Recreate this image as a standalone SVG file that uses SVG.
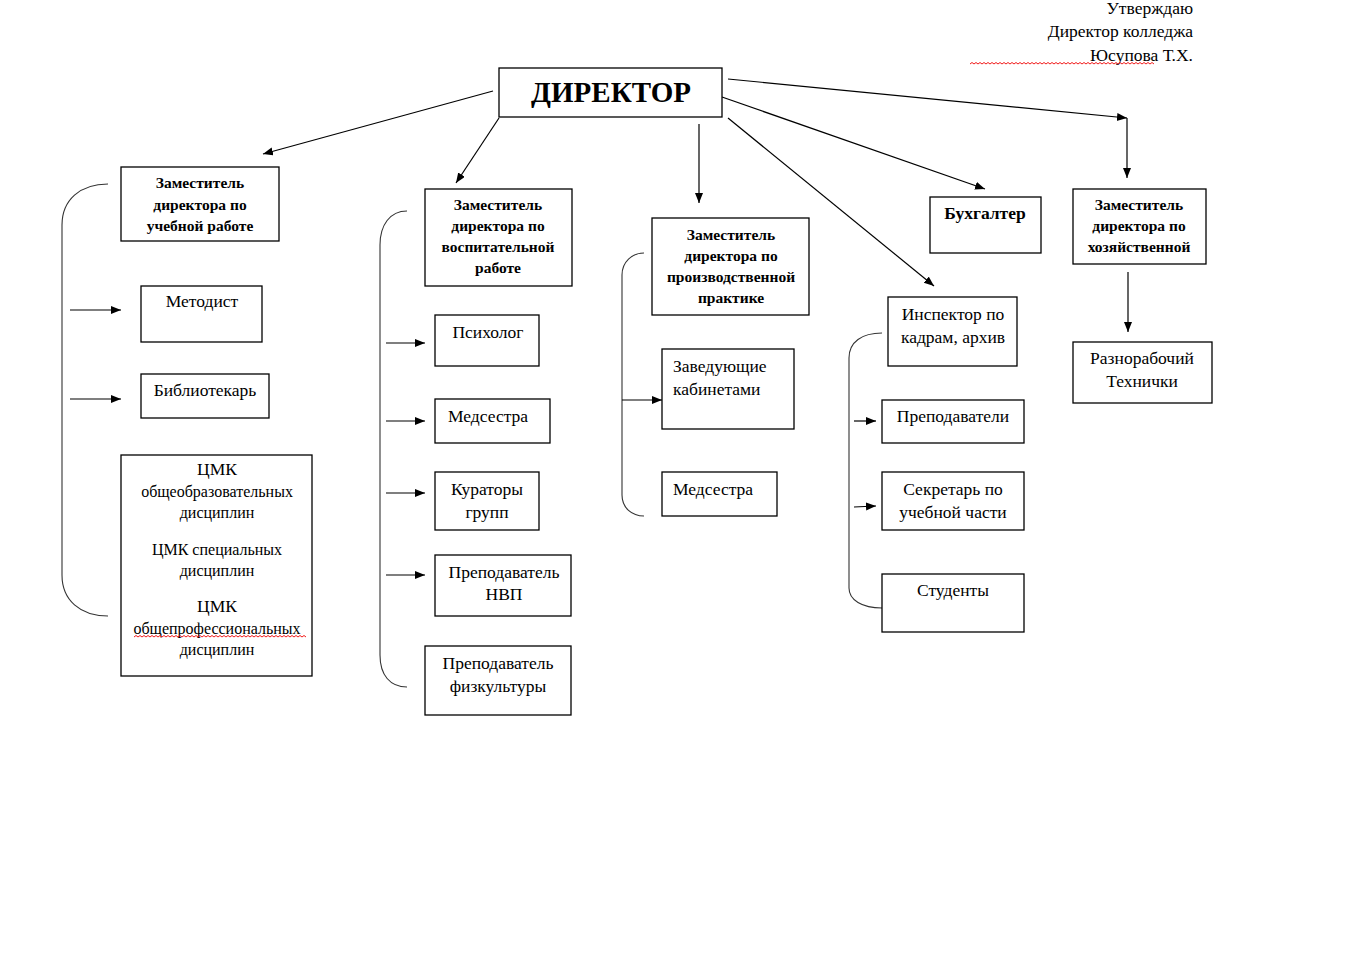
<svg xmlns="http://www.w3.org/2000/svg" width="1348" height="979" viewBox="0 0 1348 979">
<style>
.box{fill:#fff;stroke:#000;stroke-width:1.3}
.t{font-family:"Liberation Serif","Times New Roman",serif;font-size:17.5px;fill:#000}
.c{text-anchor:middle}
.b{font-weight:bold;font-size:15.5px}
.s{font-size:16px}
.ln{fill:none;stroke:#000;stroke-width:1.2}
.br{fill:none;stroke:#333;stroke-width:1.1}
.wv{fill:none;stroke:#e00;stroke-width:0.9}
</style>
<defs>
<marker id="ah" markerUnits="userSpaceOnUse" markerWidth="12" markerHeight="10" refX="10" refY="4" orient="auto">
<path d="M0,0 L10,4 L0,8 Z" fill="#000"/>
</marker>
</defs>
<rect width="1348" height="979" fill="#fff"/>

<g id="header">
<text class="t" x="1193" y="14" text-anchor="end">Утверждаю</text>
<text class="t" x="1193" y="37" text-anchor="end">Директор колледжа</text>
<text class="t" x="1193" y="61" text-anchor="end">Юсупова Т.Х.</text>
<path class="wv" d="M970,64 l2,-1.5 l2,1.5 l2,-1.5 l2,1.5 l2,-1.5 l2,1.5 l2,-1.5 l2,1.5 l2,-1.5 l2,1.5 l2,-1.5 l2,1.5 l2,-1.5 l2,1.5 l2,-1.5 l2,1.5 l2,-1.5 l2,1.5 l2,-1.5 l2,1.5 l2,-1.5 l2,1.5 l2,-1.5 l2,1.5 l2,-1.5 l2,1.5 l2,-1.5 l2,1.5 l2,-1.5 l2,1.5 l2,-1.5 l2,1.5 l2,-1.5 l2,1.5 l2,-1.5 l2,1.5 l2,-1.5 l2,1.5 l2,-1.5 l2,1.5 l2,-1.5 l2,1.5 l2,-1.5 l2,1.5 l2,-1.5 l2,1.5 l2,-1.5 l2,1.5 l2,-1.5 l2,1.5 l2,-1.5 l2,1.5 l2,-1.5 l2,1.5 l2,-1.5 l2,1.5 l2,-1.5 l2,1.5 l2,-1.5 l2,1.5 l2,-1.5 l2,1.5 l2,-1.5 l2,1.5 l2,-1.5 l2,1.5 l2,-1.5 l2,1.5 l2,-1.5 l2,1.5 l2,-1.5 l2,1.5 l2,-1.5 l2,1.5 l2,-1.5 l2,1.5 l2,-1.5 l2,1.5 l2,-1.5 l2,1.5 l2,-1.5 l2,1.5 l2,-1.5 l2,1.5 l2,-1.5 l2,1.5 l2,-1.5 l2,1.5 l2,-1.5 l2,1.5 l2,-1.5 l2,1.5"/>
</g>

<g id="connectors">
<line class="ln" x1="493" y1="91" x2="263" y2="154" marker-end="url(#ah)"/>
<line class="ln" x1="499" y1="118" x2="456" y2="183" marker-end="url(#ah)"/>
<line class="ln" x1="699" y1="124" x2="699" y2="203" marker-end="url(#ah)"/>
<line class="ln" x1="722" y1="97" x2="985" y2="189" marker-end="url(#ah)"/>
<line class="ln" x1="728" y1="118" x2="934" y2="286" marker-end="url(#ah)"/>
<line class="ln" x1="728" y1="79" x2="1127" y2="118" marker-end="url(#ah)"/>
<line class="ln" x1="1127" y1="118" x2="1127" y2="178" marker-end="url(#ah)"/>
<line class="ln" x1="1128" y1="272" x2="1128" y2="332" marker-end="url(#ah)"/>

<path class="br" d="M108,184 C80,184 62,200 62,225 L62,575 C62,600 80,616 108,616"/>
<line class="ln" x1="70" y1="310" x2="121" y2="310" marker-end="url(#ah)"/>
<line class="ln" x1="70" y1="399" x2="121" y2="399" marker-end="url(#ah)"/>

<path class="br" d="M407,211 C390,211 380,225 380,245 L380,655 C380,675 390,687 407,687"/>
<line class="ln" x1="386" y1="343" x2="425" y2="343" marker-end="url(#ah)"/>
<line class="ln" x1="386" y1="421" x2="425" y2="421" marker-end="url(#ah)"/>
<line class="ln" x1="386" y1="493" x2="425" y2="493" marker-end="url(#ah)"/>
<line class="ln" x1="386" y1="575" x2="425" y2="575" marker-end="url(#ah)"/>

<path class="br" d="M644,253 C632,253 622,262 622,275 L622,495 C622,508 632,516 644,516"/>
<line class="ln" x1="622" y1="400" x2="662" y2="400" marker-end="url(#ah)"/>

<path class="br" d="M882,333 C862,333 849,342 849,358 L849,588 C849,600 862,608 882,608"/>
<line class="ln" x1="854" y1="421" x2="876" y2="421" marker-end="url(#ah)"/>
<line class="ln" x1="854" y1="507" x2="876" y2="506" marker-end="url(#ah)"/>
</g>

<g id="director">
<rect class="box" x="499" y="68" width="223" height="49"/>
<text class="t c" x="611" y="102" style="font-weight:bold;font-size:29px">ДИРЕКТОР</text>
</g>

<g id="zam-ucheb">
<rect class="box" x="121" y="167" width="158" height="74"/>
<text class="t c b" x="200" y="188">Заместитель</text>
<text class="t c b" x="200" y="210">директора по</text>
<text class="t c b" x="200" y="231">учебной работе</text>
</g>
<g id="metodist">
<rect class="box" x="141" y="286" width="121" height="56"/>
<text class="t c" x="202" y="307">Методист</text>
</g>
<g id="bibliotekar">
<rect class="box" x="141" y="374" width="128" height="44"/>
<text class="t c" x="205" y="396">Библиотекарь</text>
</g>
<g id="cmk">
<rect class="box" x="121" y="455" width="191" height="221"/>
<text class="t c" x="217" y="475">ЦМК</text>
<text class="t c s" x="217" y="497">общеобразовательных</text>
<text class="t c s" x="217" y="518">дисциплин</text>
<text class="t c s" x="217" y="555">ЦМК специальных</text>
<text class="t c s" x="217" y="576">дисциплин</text>
<text class="t c" x="217" y="612">ЦМК</text>
<text class="t c s" x="217" y="634">общепрофессиональных</text>
<text class="t c s" x="217" y="655">дисциплин</text>
<path class="wv" d="M134,637 l2,-1.5 l2,1.5 l2,-1.5 l2,1.5 l2,-1.5 l2,1.5 l2,-1.5 l2,1.5 l2,-1.5 l2,1.5 l2,-1.5 l2,1.5 l2,-1.5 l2,1.5 l2,-1.5 l2,1.5 l2,-1.5 l2,1.5 l2,-1.5 l2,1.5 l2,-1.5 l2,1.5 l2,-1.5 l2,1.5 l2,-1.5 l2,1.5 l2,-1.5 l2,1.5 l2,-1.5 l2,1.5 l2,-1.5 l2,1.5 l2,-1.5 l2,1.5 l2,-1.5 l2,1.5 l2,-1.5 l2,1.5 l2,-1.5 l2,1.5 l2,-1.5 l2,1.5 l2,-1.5 l2,1.5 l2,-1.5 l2,1.5 l2,-1.5 l2,1.5 l2,-1.5 l2,1.5 l2,-1.5 l2,1.5 l2,-1.5 l2,1.5 l2,-1.5 l2,1.5 l2,-1.5 l2,1.5 l2,-1.5 l2,1.5 l2,-1.5 l2,1.5 l2,-1.5 l2,1.5 l2,-1.5 l2,1.5 l2,-1.5 l2,1.5 l2,-1.5 l2,1.5 l2,-1.5 l2,1.5 l2,-1.5 l2,1.5 l2,-1.5 l2,1.5 l2,-1.5 l2,1.5 l2,-1.5 l2,1.5 l2,-1.5 l2,1.5 l2,-1.5 l2,1.5 l2,-1.5 l2,1.5"/>
</g>

<g id="zam-vospit">
<rect class="box" x="425" y="189" width="147" height="97"/>
<text class="t c b" x="498" y="210">Заместитель</text>
<text class="t c b" x="498" y="231">директора по</text>
<text class="t c b" x="498" y="252">воспитательной</text>
<text class="t c b" x="498" y="273">работе</text>
</g>
<g id="psiholog">
<rect class="box" x="435" y="315" width="104" height="51"/>
<text class="t c" x="488" y="338">Психолог</text>
</g>
<g id="medsestra1">
<rect class="box" x="435" y="399" width="115" height="44"/>
<text class="t c" x="488" y="422">Медсестра</text>
</g>
<g id="kuratory">
<rect class="box" x="435" y="472" width="104" height="58"/>
<text class="t c" x="487" y="495">Кураторы</text>
<text class="t c" x="487" y="518">групп</text>
</g>
<g id="nvp">
<rect class="box" x="435" y="555" width="136" height="61"/>
<text class="t c" x="504" y="578">Преподаватель</text>
<text class="t c" x="504" y="600">НВП</text>
</g>
<g id="fizkultura">
<rect class="box" x="425" y="646" width="146" height="69"/>
<text class="t c" x="498" y="669">Преподаватель</text>
<text class="t c" x="498" y="692">физкультуры</text>
</g>

<g id="zam-praktika">
<rect class="box" x="652" y="218" width="157" height="97"/>
<text class="t c b" x="731" y="240">Заместитель</text>
<text class="t c b" x="731" y="261">директора по</text>
<text class="t c b" x="731" y="282">производственной</text>
<text class="t c b" x="731" y="303">практике</text>
</g>
<g id="zaveduyushchie">
<rect class="box" x="662" y="349" width="132" height="80"/>
<text class="t" x="673" y="372">Заведующие</text>
<text class="t" x="673" y="395">кабинетами</text>
</g>
<g id="medsestra2">
<rect class="box" x="662" y="472" width="115" height="44"/>
<text class="t" x="673" y="495">Медсестра</text>
</g>

<g id="buhgalter">
<rect class="box" x="930" y="197" width="111" height="56"/>
<text class="t c" x="985" y="219" style="font-weight:bold">Бухгалтер</text>
</g>
<g id="inspektor">
<rect class="box" x="888" y="297" width="129" height="69"/>
<text class="t c" x="953" y="320">Инспектор по</text>
<text class="t c" x="953" y="343">кадрам, архив</text>
</g>
<g id="prepodavateli">
<rect class="box" x="882" y="400" width="142" height="43"/>
<text class="t c" x="953" y="422">Преподаватели</text>
</g>
<g id="sekretar">
<rect class="box" x="882" y="472" width="142" height="58"/>
<text class="t c" x="953" y="495">Секретарь по</text>
<text class="t c" x="953" y="518">учебной части</text>
</g>
<g id="studenty">
<rect class="box" x="882" y="574" width="142" height="58"/>
<text class="t c" x="953" y="596">Студенты</text>
</g>

<g id="zam-hoz">
<rect class="box" x="1073" y="189" width="133" height="75"/>
<text class="t c b" x="1139" y="210">Заместитель</text>
<text class="t c b" x="1139" y="231">директора по</text>
<text class="t c b" x="1139" y="252">хозяйственной</text>
</g>
<g id="raznorabochiy">
<rect class="box" x="1073" y="342" width="139" height="61"/>
<text class="t c" x="1142" y="364">Разнорабочий</text>
<text class="t c" x="1142" y="387">Технички</text>
</g>
</svg>
